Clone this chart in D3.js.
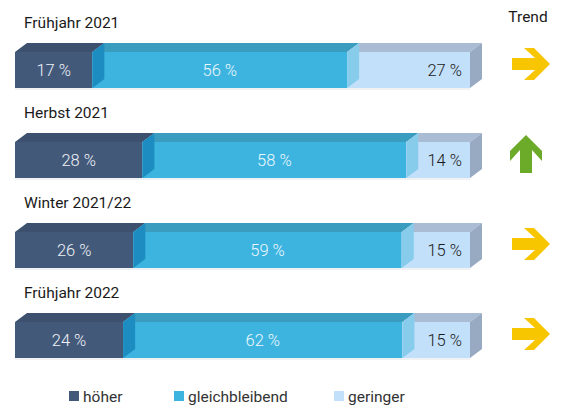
<!DOCTYPE html>
<html><head><meta charset="utf-8">
<script src="https://cdn.jsdelivr.net/npm/d3@7"></script>
<style>body{margin:0;background:#fff}svg{display:block}text{font-family:Roboto,"Noto Sans",sans-serif}</style>
</head><body>
<script>
const periods = ["Frühjahr 2021","Herbst 2021","Winter 2021/22","Frühjahr 2022"];
const hoeher = [17,28,26,24];
const gleich = [56,58,59,62];
const geringer = [27,14,15,15];
const trend = ["right","up","right","right"];
const seriesNames = ["höher","gleichbleibend","geringer"];

const W=563,H=408;
const frontCol=["#43597a","#3db4e0","#c3e0fb"];
const topCol=["#3d506d","#3a9dbf","#a9bcd4"];
const sideCol=["#1d8cc0","#88ccec","#98aac1"];
const labelCol=["#eef2f7","#eef8fc","#1a1a1a"];
const dx=12, dy=-9;

const svg=d3.select("body").append("svg").attr("width",W).attr("height",H);
const y=d3.scaleBand().domain(periods).range([25,385]).paddingInner(0.6).paddingOuter(0.3);
const bh=y.bandwidth();

periods.forEach((p,r)=>{
  const vals=[hoeher[r],gleich[r],geringer[r]];
  const total=d3.sum(vals);
  const x=d3.scaleLinear().domain([0,total]).range([15,470]);
  let cum=0;
  const segs=vals.map((v,i)=>{const s={i,v,x0:x(cum),x1:x(cum+v)};cum+=v;return s;});
  const y0=y(p);
  const g=svg.append("g");
  g.append("line").attr("x1",15).attr("x2",470).attr("y1",y0+bh+1).attr("y2",y0+bh+1).attr("stroke","#e2e4e6");
  segs.forEach(s=>{
    g.append("rect").attr("x",s.x0).attr("y",y0).attr("width",s.x1-s.x0).attr("height",bh).attr("fill",frontCol[s.i]);
    g.append("path").attr("d",`M${s.x0},${y0}L${s.x1},${y0}L${s.x1+dx},${y0+dy}L${s.x0+dx},${y0+dy}Z`).attr("fill",topCol[s.i]);
  });
  segs.forEach(s=>{
    g.append("path").attr("d",`M${s.x1},${y0}L${s.x1+dx},${y0+dy}L${s.x1+dx},${y0+dy+bh}L${s.x1},${y0+bh}Z`).attr("fill",sideCol[s.i]);
  });
  segs.forEach(s=>{
    const t=g.append("text").attr("y",y0+bh/2+6).attr("font-size",16.5).attr("font-weight",300).attr("fill",labelCol[s.i]).text(s.v+" %");
    if(s.i<2) t.attr("x",(s.x0+s.x1)/2).attr("text-anchor","middle");
    else t.attr("x",s.x1-8).attr("text-anchor","end");
  });
  svg.append("text").attr("x",24).attr("y",y0-24).attr("font-size",15.5).attr("fill","#1a1a1a").text(p);
  const shape="M19,0L3,-16L-7,-16L4,-6L-19,-6L-19,6L4,6L-7,16L3,16Z";
  const up=trend[r]==="up";
  svg.append("path").attr("d",shape)
    .attr("transform",`translate(${up?526:531},${y0+bh/2-6})${up?" rotate(-90)":""}`)
    .attr("fill",up?"#6caa2a":"#f8c600");
});
svg.append("text").attr("x",528).attr("y",22).attr("text-anchor","middle").attr("font-size",15.5).attr("fill","#1a1a1a").text("Trend");

const lx=[69,174,334];
seriesNames.forEach((n,i)=>{
  svg.append("rect").attr("x",lx[i]).attr("y",391).attr("width",10).attr("height",10).attr("fill",frontCol[i]);
  svg.append("text").attr("x",lx[i]+14).attr("y",402).attr("font-size",15.5).attr("fill","#333").text(n);
});
</script>
</body></html>
